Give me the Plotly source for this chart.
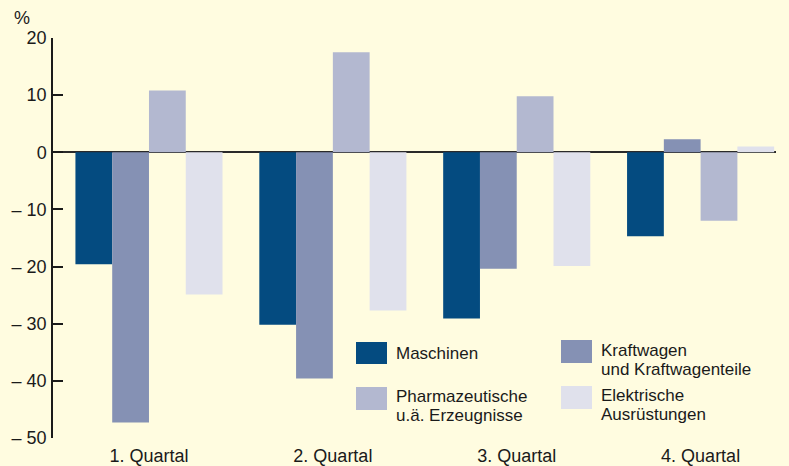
import plotly.graph_objects as go

quarters = ["1. Quartal", "2. Quartal", "3. Quartal", "4. Quartal"]
series_names = ["Maschinen", "Kraftwagen und Kraftwagenteile",
                "Pharmazeutische u.ä. Erzeugnisse", "Elektrische Ausrüstungen"]
maschinen = [-19.6, -30.2, -29.1, -14.7]
kraftwagen = [-47.3, -39.6, -20.4, 2.3]
pharma = [10.8, 17.5, 9.8, -12.0]
elektrisch = [-24.9, -27.7, -19.9, 1.0]
y_ticks = [20, 10, 0, -10, -20, -30, -40, -50]
y_tick_labels = ["20", "10", "0", "– 10", "– 20", "– 30", "– 40", "– 50"]

colors = ["#044B80", "#8591B4", "#B3B8D0", "#E0E1EC"]
bg = "#FFFCE0"
FONT = "Liberation Sans"
FS = 18
LFS = 17

W, H = 789, 466
L, R, T, B = 53, 776, 38, 438

fig = go.Figure()
for name, vals, col in zip(series_names, [maschinen, kraftwagen, pharma, elektrisch], colors):
    fig.add_trace(go.Bar(x=quarters, y=vals, name=name, marker=dict(color=col, line=dict(width=0)),
                         showlegend=False))

def px_x(p):
    return (p - L) / (R - L)

def px_y(p):
    return (B - p) / (B - T)

shapes = []
annotations = []
legend_items = [
    (colors[0], (356, 342, 387, 364), ["Maschinen"], [353]),
    (colors[1], (561, 340, 592, 363), ["Kraftwagen", "und Kraftwagenteile"], [350, 369]),
    (colors[2], (356, 387, 387, 410), ["Pharmazeutische", "u.ä. Erzeugnisse"], [396, 415]),
    (colors[3], (561, 386, 592, 409), ["Elektrische", "Ausrüstungen"], [395, 414]),
]
for col, (x0, y0, x1, y1), lines, ys in legend_items:
    shapes.append(dict(type="rect", xref="paper", yref="paper",
                       x0=px_x(x0), x1=px_x(x1), y0=px_y(y1), y1=px_y(y0),
                       fillcolor=col, line=dict(width=0), layer="above"))
    for txt, yy in zip(lines, ys):
        annotations.append(dict(text=txt, xref="paper", yref="paper",
                                x=px_x(x1 + 7), y=px_y(yy), xanchor="left", yanchor="middle",
                                showarrow=False, font=dict(family=FONT, size=LFS, color="#1a1a1a")))

annotations.append(dict(text="%", xref="paper", yref="paper", x=px_x(12), y=px_y(18),
                        xanchor="left", yanchor="middle", showarrow=False,
                        font=dict(family=FONT, size=FS, color="#1a1a1a")))

fig.update_layout(
    width=W, height=H,
    margin=dict(l=L, r=W - R, t=T, b=H - B, pad=0, autoexpand=False),
    paper_bgcolor=bg, plot_bgcolor=bg,
    barmode="group", bargap=0.2, bargroupgap=0,
    font=dict(family=FONT, size=FS, color="#1a1a1a"),
    shapes=shapes, annotations=annotations,
    xaxis=dict(type="category", range=[-0.522, 3.41], showgrid=False, showline=False,
               ticks="", zeroline=False, ticklabelstandoff=5, automargin=False,
               tickfont=dict(family=FONT, size=FS, color="#1a1a1a")),
    yaxis=dict(range=[-50, 20], tickvals=y_ticks, ticktext=y_tick_labels,
               showgrid=False, showline=True, linecolor="#1a1a1a", linewidth=1.5,
               ticks="inside", ticklen=10, tickwidth=1.5, tickcolor="#1a1a1a",
               zeroline=True, zerolinecolor="#2a2a2a", zerolinewidth=2,
               ticklabelstandoff=1, automargin=False,
               tickfont=dict(family=FONT, size=FS, color="#1a1a1a")),
)

fig.write_html("out.html", config={"displayModeBar": False},
               post_script="document.body.style.margin='0';document.body.style.overflow='hidden';")
